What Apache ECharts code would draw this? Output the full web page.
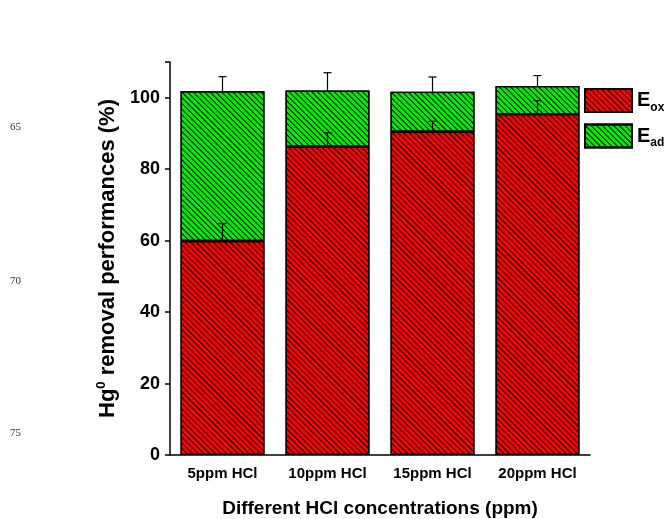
<!DOCTYPE html>
<html>
<head>
<meta charset="utf-8">
<script src="https://cdn.jsdelivr.net/npm/echarts@6/dist/echarts.min.js"></script>
<style>
  html, body { margin: 0; padding: 0; background: #fff; }
  #chart { width: 666px; height: 519px; }
</style>
</head>
<body>
<div id="chart"></div>
<script>
// data
var categories = ['5ppm HCl', '10ppm HCl', '15ppm HCl', '20ppm HCl'];
var eOx = [59.9, 86.3, 90.5, 95.4];
var eAd = [41.9, 15.7, 11.2, 7.9];
var errOx = [4.9, 3.9, 2.9, 3.8];
var errTotal = [4.1, 5.0, 4.1, 2.9];
var lineNumbers = ['65', '70', '75'];

var font = 'Liberation Sans, Arial, sans-serif';

function hatch(color) {
  return {
    symbol: 'rect',
    symbolSize: 1,
    dashArrayX: [1, 0],
    dashArrayY: [0.8, 2.5],
    rotation: Math.PI / 4,
    color: color
  };
}

var errOxData = eOx.map(function (v, i) { return [i, v, v + errOx[i]]; });
var errTotalData = eOx.map(function (v, i) {
  var t = v + eAd[i];
  return [i, t, t + errTotal[i]];
});

function errorBar(params, api) {
  var p0 = api.coord([api.value(0), api.value(1)]);
  var p1 = api.coord([api.value(0), api.value(2)]);
  var w = 4;
  return {
    type: 'group',
    children: [
      { type: 'line', shape: { x1: p0[0], y1: p0[1], x2: p1[0], y2: p1[1] }, style: { stroke: '#000', lineWidth: 1.2 } },
      { type: 'line', shape: { x1: p1[0] - w, y1: p1[1], x2: p1[0] + w, y2: p1[1] }, style: { stroke: '#000', lineWidth: 1.2 } }
    ]
  };
}

var chart = echarts.init(document.getElementById('chart'));
chart.setOption({
  animation: false,
  grid: { left: 170, right: 76, top: 62, bottom: 64, containLabel: false, outerBoundsMode: 'none' },
  legend: {
    left: 579,
    top: 83,
    orient: 'vertical',
    itemWidth: 47,
    itemHeight: 23,
    itemGap: 10,
    icon: 'rect',
    data: ['Eox', 'Ead'],
    formatter: function (n) { return '{m|E}{s|' + n.slice(1) + '}'; },
    textStyle: {
      rich: {
        m: { fontFamily: font, fontWeight: 'bold', fontSize: 20, color: '#000' },
        s: { fontFamily: font, fontWeight: 'bold', fontSize: 12, color: '#000', padding: [14, 0, 0, 0] }
      }
    }
  },
  graphic: lineNumbers.map(function (t, i) {
    return {
      type: 'text',
      left: 10,
      top: [122, 276, 428][i],
      style: { text: t, font: '11px "Liberation Serif", "Times New Roman", serif', fill: '#333' }
    };
  }),
  xAxis: {
    type: 'category',
    data: categories,
    axisLine: { lineStyle: { color: '#000', width: 1.5 } },
    axisTick: { alignWithLabel: true, length: 5, lineStyle: { color: '#000', width: 1.5 } },
    axisLabel: { margin: 11, color: '#000', fontFamily: font, fontWeight: 'bold', fontSize: 15 },
    name: 'Different HCl concentrations (ppm)',
    nameLocation: 'middle',
    nameGap: 44,
    nameTextStyle: { color: '#000', fontFamily: font, fontWeight: 'bold', fontSize: 19 }
  },
  yAxis: {
    type: 'value',
    min: 0,
    max: 110,
    interval: 20,
    splitLine: { show: false },
    axisLine: { show: true, lineStyle: { color: '#000', width: 1.5 } },
    axisTick: { show: true, length: 5, lineStyle: { color: '#000', width: 1.5 } },
    axisLabel: {
      margin: 10, color: '#000', fontFamily: font, fontWeight: 'bold', fontSize: 18,
      formatter: function (v) { return v > 100 ? '' : v; }
    },
    name: '{b|Hg}{sup|0}{b| removal performances (%)}',
    nameLocation: 'middle',
    nameGap: 41,
    nameTextStyle: {
      rich: {
        b: { fontFamily: font, fontWeight: 'bold', fontSize: 22, color: '#000' },
        sup: { fontFamily: font, fontWeight: 'bold', fontSize: 13, color: '#000', padding: [0, 0, 14, 0] }
      }
    }
  },
  series: [
    {
      name: 'Eox',
      type: 'bar',
      stack: 'total',
      barWidth: '80%',
      data: eOx,
      itemStyle: { color: '#ff0000', borderColor: '#000', borderWidth: 1.2, decal: hatch('#000') }
    },
    {
      name: 'Ead',
      type: 'bar',
      stack: 'total',
      data: eAd,
      itemStyle: { color: '#00ee00', borderColor: '#000', borderWidth: 1.2, decal: hatch('#000') }
    },
    {
      type: 'custom',
      renderItem: errorBar,
      data: errOxData,
      z: 5
    },
    {
      type: 'custom',
      renderItem: errorBar,
      data: errTotalData,
      z: 5
    }
  ]
});
</script>
</body>
</html>
